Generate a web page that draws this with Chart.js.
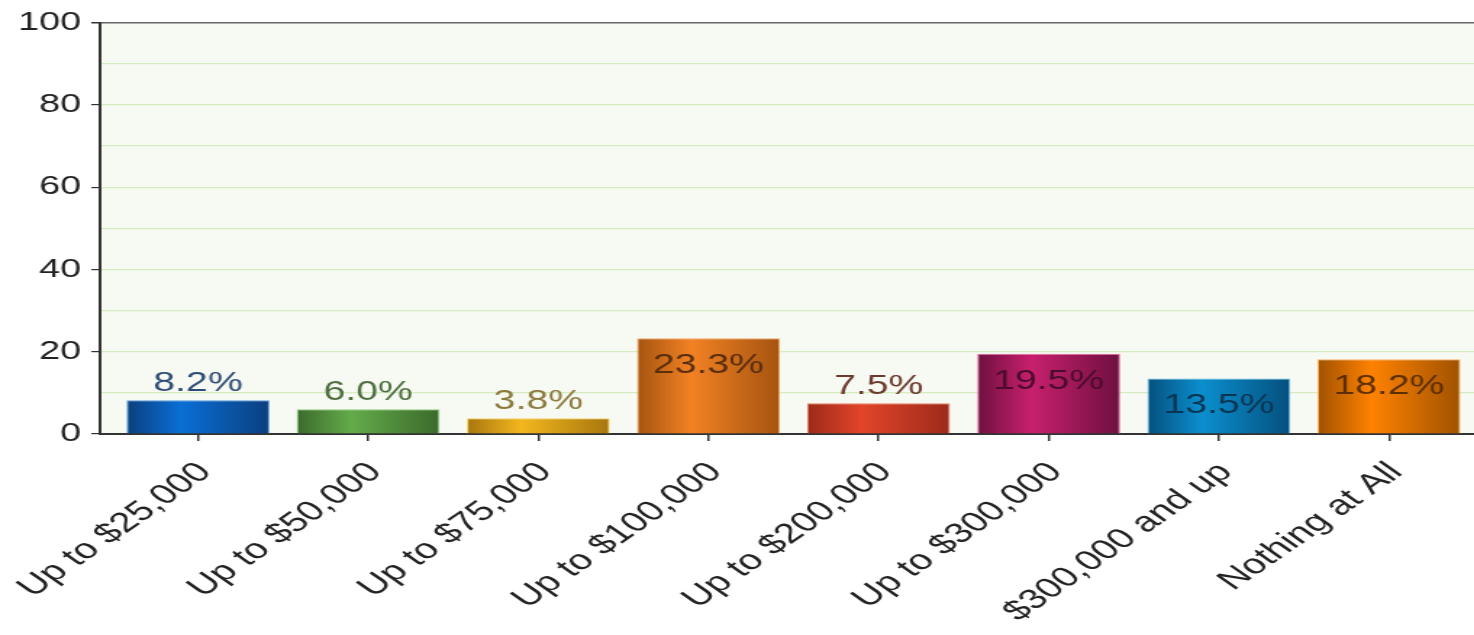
<!DOCTYPE html>
<html>
<head>
<meta charset="utf-8">
<script src="https://cdn.jsdelivr.net/npm/chart.js@4"></script>
<style>
  html, body { margin: 0; padding: 0; background: #fff; overflow: hidden; }
  /* the source image is stretched sideways, so draw narrow and scale the box */
  #wrap { width: 1017px; height: 635px; transform: scaleX(1.4494); transform-origin: 0 0; }
</style>
</head>
<body>
<div id="wrap"><canvas id="incomeChart"></canvas></div>
<script>
// chart data
const categories = ['Up to $25,000', 'Up to $50,000', 'Up to $75,000', 'Up to $100,000',
  'Up to $200,000', 'Up to $300,000', '$300,000 and up', 'Nothing at All'];
const percents = [8.2, 6.0, 3.8, 23.3, 7.5, 19.5, 13.5, 18.2];
const yTicks = [0, 20, 40, 60, 80, 100];

// bar colours: dark edge / light middle of the gradient
const edgeColors = ['#0b3f7e', '#3b6a2c', '#a8760e', '#a55410', '#9c2a1a', '#6e1040', '#05507e', '#a05200'];
const midColors  = ['#0a6fd6', '#64ab4a', '#f2b71e', '#f28224', '#e2452a', '#c8206e', '#0b8fce', '#ff8200'];
const lineColors = ['#5b9be0', '#8cc878', '#f5cf62', '#f6a565', '#ee7a60', '#e06aa0', '#5cbbe8', '#ffad5c'];
const textColors = ['#2f4d75', '#4d6e3e', '#8c7a3e', '#5a2e0e', '#6b3a2e', '#4a0c2c', '#0a3552', '#5a2e00'];

const barPct = 0.84;
const fontFam = '"Liberation Sans", Arial, sans-serif';

function barGradient(ctx) {
  const chart = ctx.chart;
  const i = ctx.dataIndex;
  const xs = chart.scales.x;
  if (!chart.chartArea || !xs) return midColors[i];
  const cx = xs.getPixelForValue(i);
  const w = (xs.getPixelForValue(1) - xs.getPixelForValue(0)) * barPct;
  const g = chart.ctx.createLinearGradient(cx - w / 2, 0, cx + w / 2, 0);
  g.addColorStop(0, edgeColors[i]);
  g.addColorStop(0.38, midColors[i]);
  g.addColorStop(1, edgeColors[i]);
  return g;
}

// light green plot background
const plotBg = {
  id: 'plotBg',
  beforeDraw(chart) {
    const { ctx, chartArea: a } = chart;
    ctx.save();
    ctx.fillStyle = '#f7faf3';
    ctx.fillRect(a.left, a.top, a.right - a.left, a.bottom - a.top);
    ctx.restore();
  }
};

// percent labels, above short bars and inside tall ones
const valueLabels = {
  id: 'valueLabels',
  afterDatasetsDraw(chart) {
    const ctx = chart.ctx;
    const meta = chart.getDatasetMeta(0);
    ctx.save();
    ctx.font = '27px ' + fontFam;
    ctx.textAlign = 'center';
    ctx.textBaseline = 'alphabetic';
    meta.data.forEach((bar, i) => {
      const v = percents[i];
      const y = v > 10 ? bar.y + 35 : bar.y - 9;
      ctx.fillStyle = textColors[i];
      ctx.fillText(v.toFixed(1) + '%', bar.x, y);
    });
    ctx.restore();
  }
};

const ctx = document.getElementById('incomeChart').getContext('2d');
const incomeChart = new Chart(ctx, {
  type: 'bar',
  data: {
    datasets: [{
      data: percents.map((v, i) => ({ x: i, y: v })),
      backgroundColor: barGradient,
      borderColor: lineColors,
      borderWidth: 1,
      borderSkipped: 'bottom',
      categoryPercentage: 1,
      barPercentage: barPct
    }]
  },
  options: {
    responsive: true,
    maintainAspectRatio: false,
    animation: false,
    layout: { padding: { top: 21, left: 0, right: 0, bottom: 0 } },
    plugins: { legend: { display: false }, tooltip: { enabled: false } },
    scales: {
      x: {
        type: 'linear',
        min: -0.576,
        max: 7.5,
        offset: false,
        afterBuildTicks(scale) { scale.ticks = categories.map((c, i) => ({ value: i })); },
        afterFit(scale) { scale.height = 201; scale.paddingLeft = 0; scale.paddingRight = 0; },
        border: { color: '#333', width: 2 },
        grid: { offset: false, drawOnChartArea: false, drawTicks: true, tickLength: 7, color: '#333', lineWidth: 1.5 },
        ticks: {
          autoSkip: false,
          minRotation: 45,
          maxRotation: 45,
          padding: 15,
          labelOffset: 5,
          color: '#222',
          font: { size: 28, family: fontFam },
          callback: (v) => categories[v]
        }
      },
      y: {
        min: 0,
        max: 100,
        afterBuildTicks(scale) {
          const t = [];
          for (let v = 0; v <= 100; v += 10) t.push({ value: v });
          scale.ticks = t;
        },
        afterFit(scale) { scale.width = 69; },
        border: { color: '#333', width: 2 },
        grid: {
          color: (c) => c.tick.value === 100 ? '#666' : (c.tick.value === 0 ? 'rgba(0,0,0,0)' : '#d5ecc2'),
          lineWidth: (c) => c.tick.value === 100 ? 1.5 : 1.2,
          tickColor: (c) => yTicks.includes(c.tick.value) ? '#333' : 'rgba(0,0,0,0)',
          tickLength: 6
        },
        ticks: {
          padding: 7,
          color: '#222',
          font: { size: 26, family: fontFam },
          callback: (v) => yTicks.includes(v) ? String(v) : ''
        }
      }
    }
  },
  plugins: [plotBg, valueLabels]
});
</script>
</body>
</html>
